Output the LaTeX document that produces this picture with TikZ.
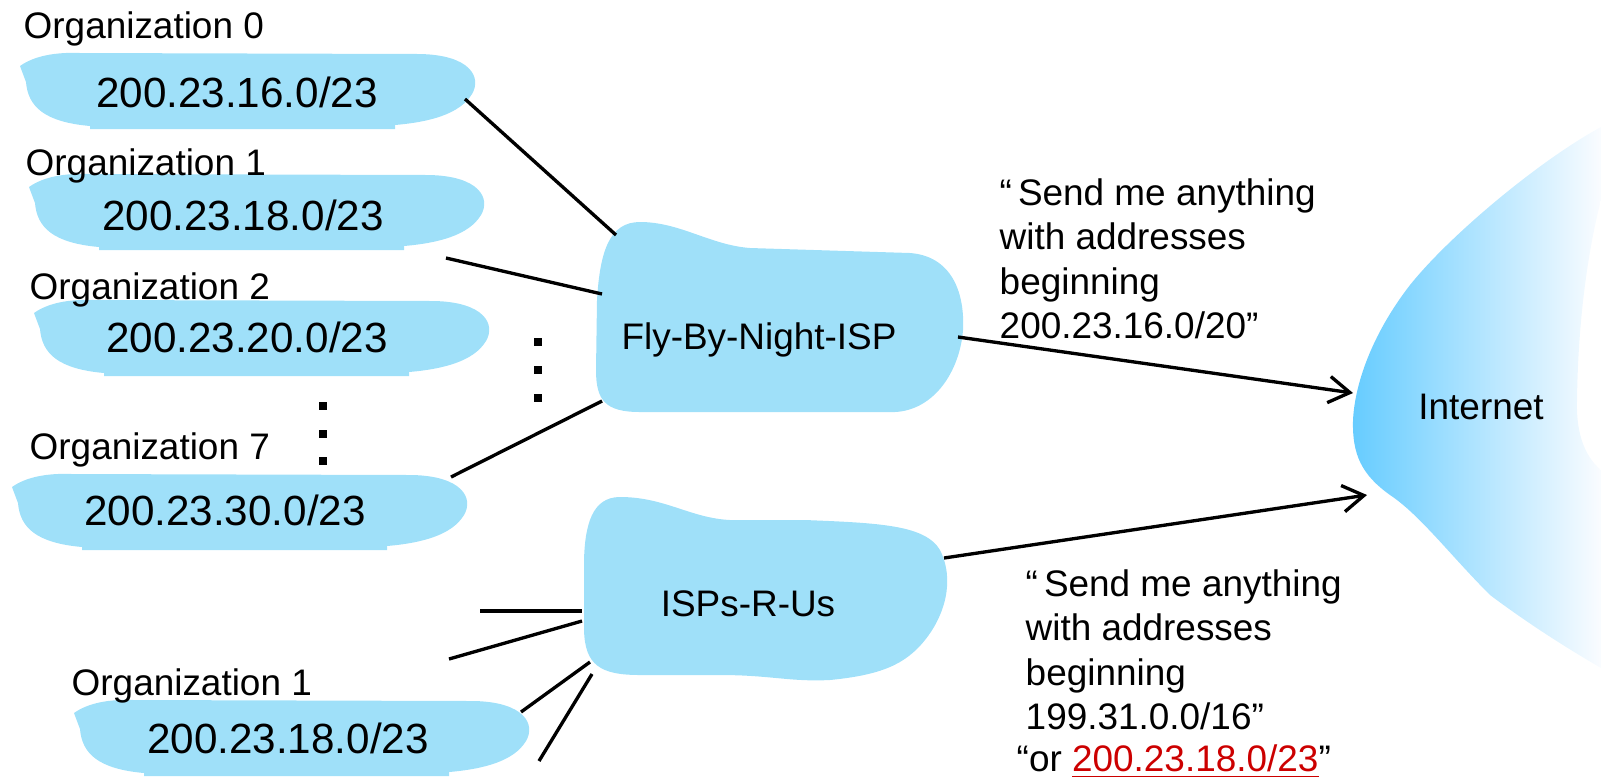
\documentclass[tikz,border=0pt]{standalone}
\usepackage{fontspec}
\setmainfont{Liberation Sans}
\usetikzlibrary{arrows.meta}
\definecolor{blobblue}{RGB}{159,224,249}
\definecolor{netblue}{RGB}{102,204,255}
\definecolor{netpale}{RGB}{250,252,255}
\definecolor{adred}{RGB}{204,0,0}
\newcommand\opq{“\kern0.06cm}
\begin{document}
\begin{tikzpicture}[x=0.01cm,y=-0.01cm,
  lbl/.style={font=\fontsize{10.5pt}{12.6pt}\selectfont,inner sep=0pt},
  ip/.style={font=\fontsize{12pt}{14pt}\selectfont,inner sep=0pt},
  link/.style={line width=0.95pt},
  toinet/.style={line width=0.95pt,-{Straight Barb[length=6pt,width=7.5pt,line width=0.95pt]}},
  pics/orgblob/.style={code={
    \fill[blobblue] (0,14) .. controls (14,4) and (35,0) .. (60,1)
      -- (400,2) .. controls (450,3) and (462,25) .. (452,42)
      .. controls (440,62) and (410,70) .. (375,73)
      -- (375,77) -- (70,77) -- (70,74)
      .. controls (25,70) and (8,55) .. (6,30) -- cycle;}}]
\useasboundingbox (0,0) rectangle (1601,778);
\pic at (20,52) {orgblob};
\pic at (29,173) {orgblob};
\pic at (34,299) {orgblob};
\pic at (12,473) {orgblob};
\pic at (74,699) {orgblob};
\fill[blobblue] (597,300) .. controls (600,250) and (610,222) .. (640,222)
  .. controls (680,222) and (710,245) .. (750,248) -- (910,253)
  .. controls (950,256) and (965,290) .. (963,330)
  .. controls (960,370) and (935,410) .. (895,412) -- (640,412)
  .. controls (605,412) and (596,400) .. (596,370) -- cycle;
\fill[blobblue] (584,560) .. controls (585,525) and (592,497) .. (620,497)
  .. controls (665,497) and (690,518) .. (730,520) -- (805,520)
  .. controls (880,523) and (925,525) .. (940,550)
  .. controls (955,580) and (945,615) .. (925,640)
  .. controls (905,665) and (880,675) .. (830,680)
  .. controls (790,682) and (770,675) .. (720,675) -- (640,675)
  .. controls (600,675) and (585,665) .. (584,630) -- cycle;
\shade[left color=netblue,right color=netpale] (1601,127)
  .. controls (1540,160) and (1450,235) .. (1410,285)
  .. controls (1375,330) and (1355,380) .. (1353,420)
  .. controls (1352,455) and (1362,475) .. (1390,495)
  .. controls (1420,515) and (1450,555) .. (1490,595)
  .. controls (1530,625) and (1570,650) .. (1601,668) -- (1601,470)
  .. controls (1583,455) and (1576,430) .. (1577,400)
  .. controls (1578,320) and (1588,250) .. (1601,200) -- cycle;

\node[lbl,anchor=base west] (org0) at (23,38) {Organization 0};
\node[lbl,anchor=base west] (org1) at (25,175) {Organization 1};
\node[lbl,anchor=base west] (org2) at (29,299) {Organization 2};
\node[lbl,anchor=base west] (org7) at (29,459) {Organization 7};
\node[lbl,anchor=base west] (org1b) at (71,695) {Organization 1};
\node[ip] (ip0) at (237,92) {200.23.16.0/23};
\node[ip] (ip1) at (243,215) {200.23.18.0/23};
\node[ip] (ip2) at (247,337) {200.23.20.0/23};
\node[ip] (ip7) at (225,510) {200.23.30.0/23};
\node[ip] (ip1b) at (288,738) {200.23.18.0/23};
\node[lbl] (fly) at (759,340) {Fly-By-Night-ISP};
\node[lbl] (rus) at (748,604) {ISPs-R-Us};
\node[lbl] (net) at (1481,407) {Internet};
\node[lbl,align=left,anchor=north west] (say1) at (999,178)
  {\opq Send me anything\\with addresses\\beginning\\200.23.16.0/20”};
\node[lbl,align=left,anchor=north west] (say2) at (1025,569)
  {\opq Send me anything\\with addresses\\beginning\\199.31.0.0/16”};
\node[lbl,anchor=base west] (say3) at (1016,771)
  {“or \textcolor{adred}{\underline{200.23.18.0/23}}”};

\foreach \y in {342,370,398} \fill (534,\y-4) rectangle +(8,8);
\foreach \y in {406,434,461} \fill (319,\y-4) rectangle +(8,8);

\coordinate (o0-out) at (465,99);
\coordinate (o1-out) at (446,258);
\coordinate (o7-out) at (451,477);
\coordinate (fly-a) at (616,235);
\coordinate (fly-b) at (602,294);
\coordinate (fly-c) at (602,401);
\coordinate (fly-out) at (958,337);
\coordinate (rus-out) at (944,558);
\coordinate (net-a) at (1353,393);
\coordinate (net-b) at (1367,495);
\coordinate (rus-a) at (582,611);
\coordinate (rus-b) at (582,621);
\coordinate (rus-c) at (590,662);
\coordinate (rus-d) at (592,674);
\coordinate (w-a) at (480,611);
\coordinate (w-b) at (449,659);
\coordinate (w-c) at (521,712);
\coordinate (w-d) at (539,761);
\draw[link] (o0-out) -- (fly-a);
\draw[link] (o1-out) -- (fly-b);
\draw[link] (o7-out) -- (fly-c);
\draw[link] (w-a) -- (rus-a);
\draw[link] (w-b) -- (rus-b);
\draw[link] (w-c) -- (rus-c);
\draw[link] (w-d) -- (rus-d);
\draw[toinet] (fly-out) -- (net-a);
\draw[toinet] (rus-out) -- (net-b);
\end{tikzpicture}
\end{document}
